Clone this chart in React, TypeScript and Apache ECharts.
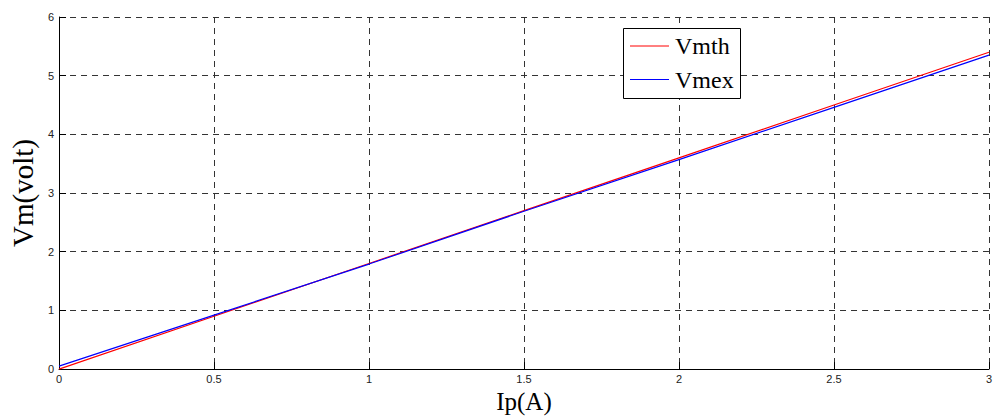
import React, { useEffect, useRef } from "react";
import * as echarts from "echarts";

const xValues = [0, 0.5, 1, 1.5, 2, 2.5, 3];
const vmth = [0.0, 0.9, 1.8, 2.7, 3.6, 4.5, 5.4];
const vmex = [0.05, 0.92, 1.79, 2.69, 3.57, 4.46, 5.35];
const seriesNames = ["Vmth", "Vmex"];
const seriesColors = ["#ff0000", "#0000ff"];
const xAxisName = "Ip(A)";
const yAxisName = "Vm(volt)";

export default function App() {
  const ref = useRef<HTMLDivElement>(null);
  useEffect(() => {
    if (!ref.current) return;
    const chart = echarts.init(ref.current, null, { renderer: "svg" });
    const gridDash = { color: "#333", width: 1, type: [6, 5] as any };
    const serif = "Liberation Serif, Times New Roman, serif";
    const legendRows = [46, 79.5];
    const legendElements: any[] = [
      {
        type: "rect",
        z: 100,
        shape: { x: 623.5, y: 28.5, width: 117, height: 70 },
        style: { fill: "#fff", stroke: "#000", lineWidth: 1 },
      },
    ];
    seriesNames.forEach((n, i) => {
      legendElements.push({
        type: "line",
        z: 101,
        shape: { x1: 630, y1: legendRows[i], x2: 669, y2: legendRows[i] },
        style: { stroke: seriesColors[i], lineWidth: 1 },
      });
      legendElements.push({
        type: "text",
        z: 101,
        x: 675,
        y: legendRows[i],
        style: {
          text: n,
          fill: "#000",
          font: `24px ${serif}`,
          textVerticalAlign: "middle",
          textAlign: "left",
        },
      });
    });
    chart.setOption({
      animation: false,
      backgroundColor: "#fff",
      grid: { left: 55, right: 5, top: 17, bottom: 49, containLabel: false },
      graphic: legendElements,
      xAxis: {
        type: "value",
        min: 0,
        max: 3,
        interval: 0.5,
        name: xAxisName,
        nameLocation: "middle",
        nameGap: 16,
        nameTextStyle: { fontFamily: serif, fontSize: 25, color: "#000" },
        axisLine: { show: true, lineStyle: { color: "#000", width: 1 } },
        axisTick: { show: true, inside: true, length: 7, lineStyle: { color: "#000" } },
        axisLabel: {
          margin: 4,
          fontFamily: "Liberation Sans, Arial, sans-serif",
          fontSize: 11,
          color: "#222",
        },
        splitLine: { show: true, lineStyle: gridDash },
      },
      yAxis: {
        type: "value",
        min: 0,
        max: 6,
        interval: 1,
        name: yAxisName,
        nameLocation: "middle",
        nameGap: 17,
        nameTextStyle: { fontFamily: serif, fontSize: 29, color: "#000" },
        axisLine: { show: true, lineStyle: { color: "#000", width: 1 } },
        axisTick: { show: true, inside: true, length: 7, lineStyle: { color: "#000" } },
        axisLabel: {
          margin: 5,
          fontFamily: "Liberation Sans, Arial, sans-serif",
          fontSize: 11,
          color: "#222",
        },
        splitLine: { show: true, lineStyle: gridDash },
      },
      series: [
        {
          name: seriesNames[0],
          type: "line",
          data: xValues.map((x, i) => [x, vmth[i]]),
          showSymbol: false,
          symbol: "none",
          lineStyle: { color: seriesColors[0], width: 1.2 },
          itemStyle: { color: seriesColors[0] },
        },
        {
          name: seriesNames[1],
          type: "line",
          data: xValues.map((x, i) => [x, vmex[i]]),
          showSymbol: false,
          symbol: "none",
          lineStyle: { color: seriesColors[1], width: 1.2 },
          itemStyle: { color: seriesColors[1] },
        },
      ],
    });
    return () => chart.dispose();
  }, []);
  return (
    <div
      ref={ref}
      style={{ position: "absolute", left: 0, top: 0, width: 995, height: 419 }}
    />
  );
}
